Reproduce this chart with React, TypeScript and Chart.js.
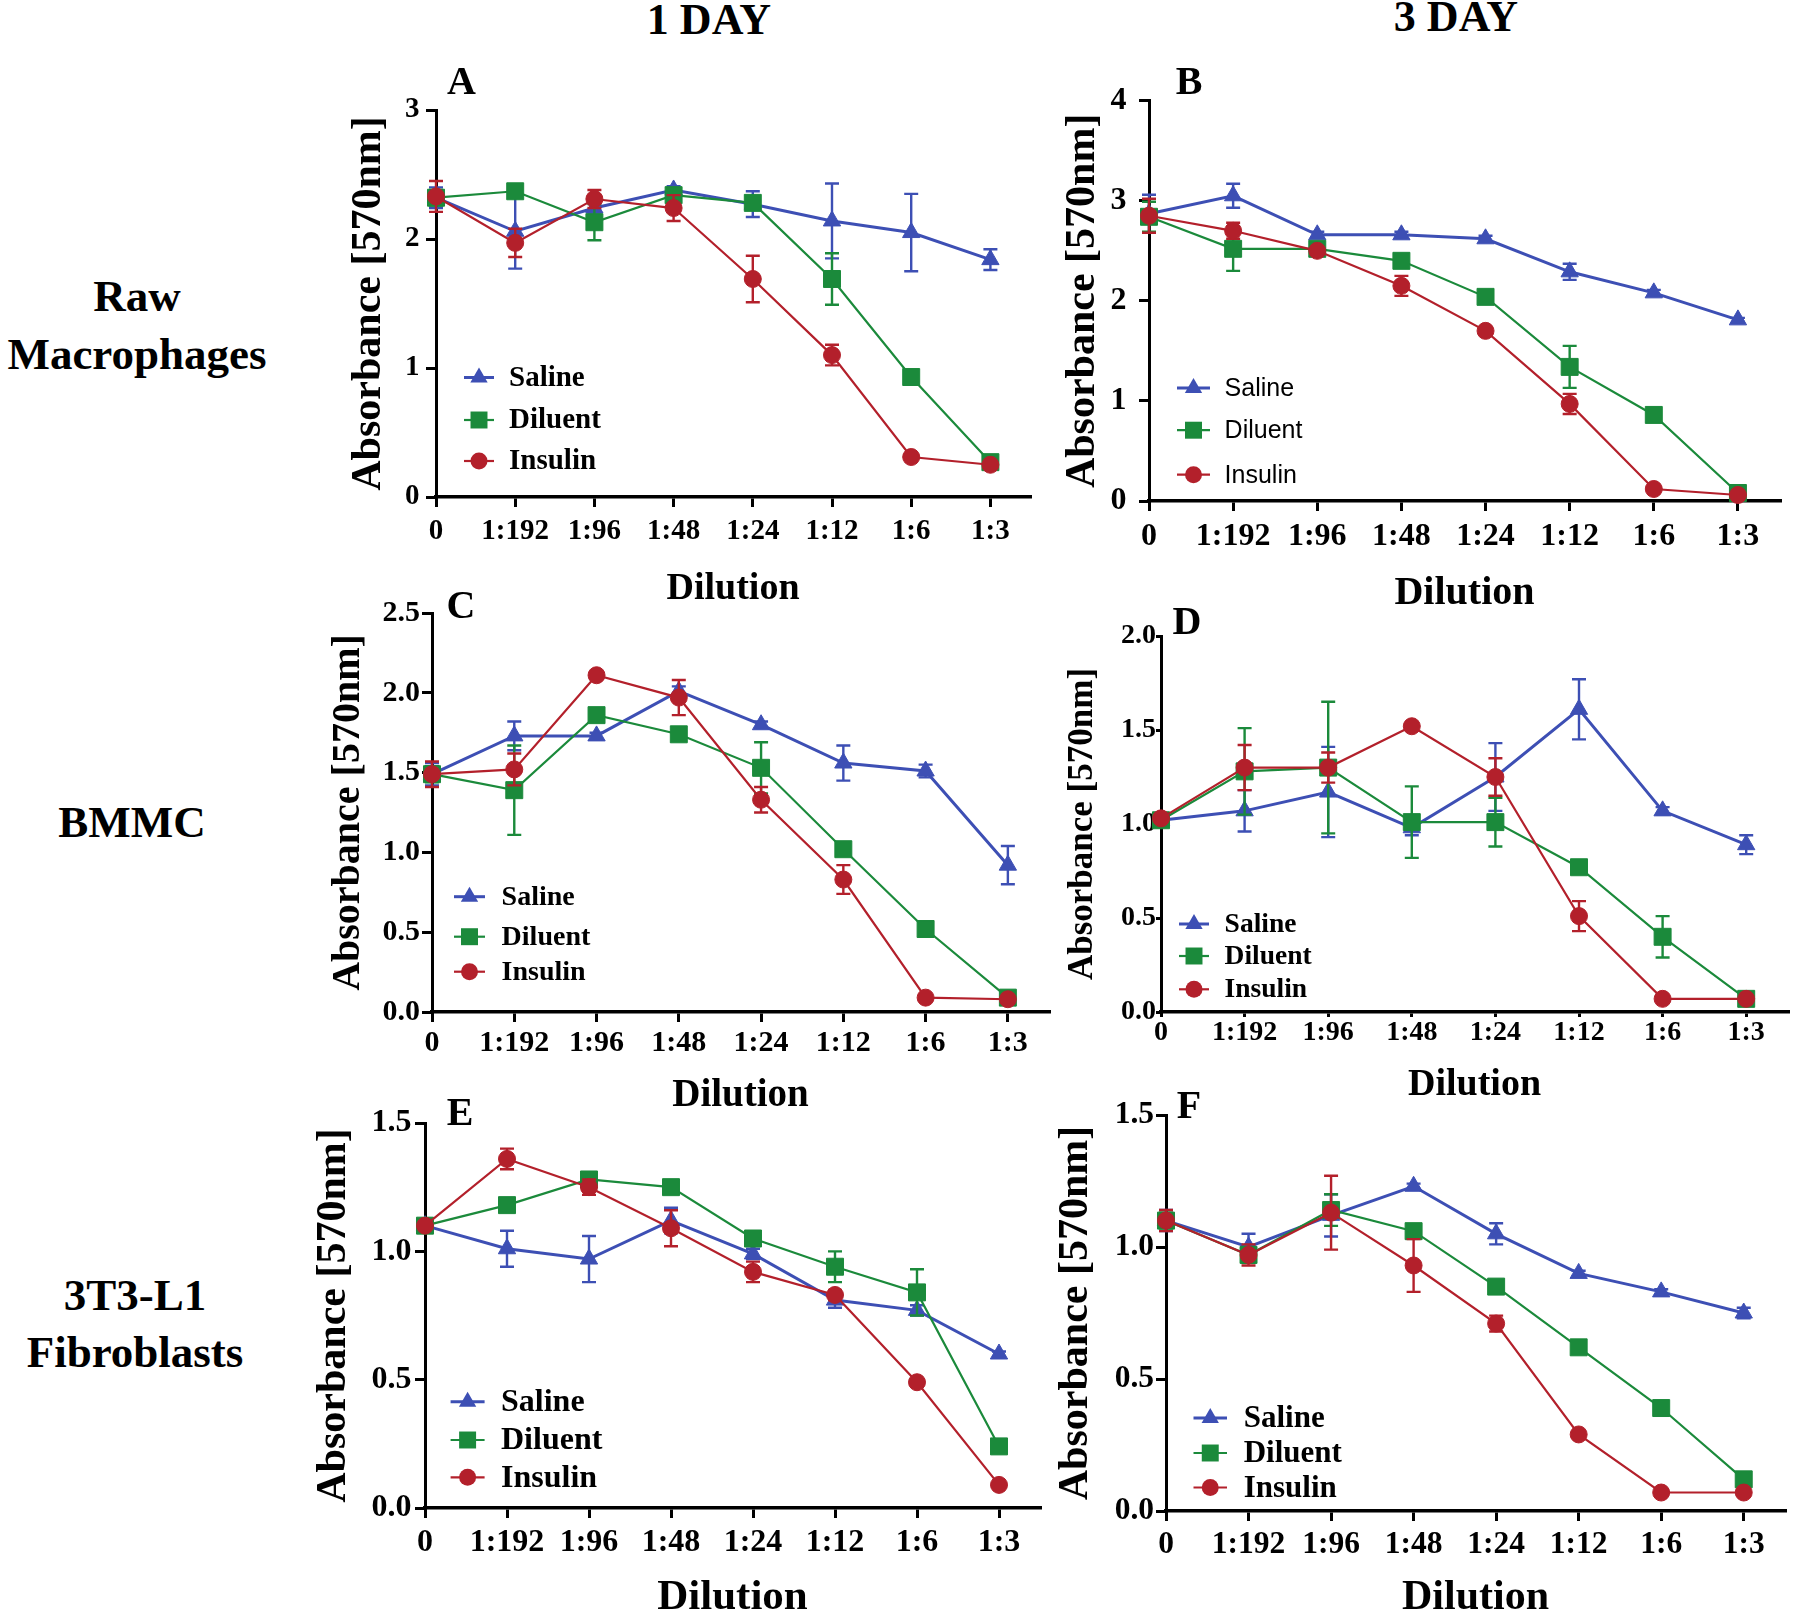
import React, { useEffect, useRef } from 'react';
import { Chart, registerables } from 'chart.js';

Chart.register(...registerables);

// ---------------- DATA ----------------
const DILUTIONS = ['0', '1:192', '1:96', '1:48', '1:24', '1:12', '1:6', '1:3'];
const SERIES_NAMES = ['Saline', 'Diluent', 'Insulin'];

// Panel A: Raw macrophages, 1 day
const A_SALINE = [2.32, 2.06, 2.24, 2.38, 2.27, 2.14, 2.05, 1.84];
const A_SALINE_ERR = [0.08, 0.29, 0.05, 0.03, 0.1, 0.29, 0.3, 0.08];
const A_DILUENT = [2.32, 2.37, 2.13, 2.34, 2.28, 1.69, 0.93, 0.27];
const A_DILUENT_ERR = [0.06, 0.05, 0.14, 0.04, 0.05, 0.2, 0.03, 0.03];
const A_INSULIN = [2.33, 1.97, 2.31, 2.24, 1.69, 1.1, 0.31, 0.25];
const A_INSULIN_ERR = [0.12, 0.11, 0.07, 0.1, 0.18, 0.08, 0.02, 0.02];

// Panel B: Raw macrophages, 3 day
const B_SALINE = [2.87, 3.05, 2.66, 2.66, 2.62, 2.29, 2.08, 1.81];
const B_SALINE_ERR = [0.19, 0.12, 0.03, 0.03, 0.03, 0.08, 0.03, 0.02];
const B_DILUENT = [2.84, 2.52, 2.52, 2.4, 2.04, 1.34, 0.86, 0.08];
const B_DILUENT_ERR = [0.15, 0.22, 0.03, 0.03, 0.03, 0.21, 0.03, 0.02];
const B_INSULIN = [2.85, 2.7, 2.5, 2.15, 1.7, 0.97, 0.12, 0.06];
const B_INSULIN_ERR = [0.17, 0.08, 0.03, 0.1, 0.03, 0.1, 0.03, 0.02];

// Panel C: BMMC, 1 day
const C_SALINE = [1.49, 1.73, 1.73, 2.01, 1.8, 1.56, 1.51, 0.92];
const C_SALINE_ERR = [0.07, 0.09, 0.02, 0.03, 0.02, 0.11, 0.04, 0.12];
const C_DILUENT = [1.49, 1.39, 1.86, 1.74, 1.53, 1.02, 0.52, 0.09];
const C_DILUENT_ERR = [0.05, 0.28, 0.03, 0.02, 0.16, 0.02, 0.02, 0.02];
const C_INSULIN = [1.49, 1.52, 2.11, 1.97, 1.33, 0.83, 0.09, 0.08];
const C_INSULIN_ERR = [0.08, 0.1, 0.02, 0.11, 0.08, 0.09, 0.01, 0.01];

// Panel D: BMMC, 3 day
const D_SALINE = [1.02, 1.07, 1.17, 0.98, 1.25, 1.61, 1.07, 0.89];
const D_SALINE_ERR = [0.02, 0.11, 0.24, 0.04, 0.18, 0.16, 0.02, 0.05];
const D_DILUENT = [1.02, 1.28, 1.3, 1.01, 1.01, 0.77, 0.4, 0.07];
const D_DILUENT_ERR = [0.02, 0.23, 0.35, 0.19, 0.13, 0.02, 0.11, 0.01];
const D_INSULIN = [1.03, 1.3, 1.3, 1.52, 1.25, 0.51, 0.07, 0.07];
const D_INSULIN_ERR = [0.02, 0.12, 0.08, 0.02, 0.1, 0.08, 0.01, 0.01];

// Panel E: 3T3-L1 fibroblasts, 1 day
const E_SALINE = [1.1, 1.01, 0.97, 1.12, 0.99, 0.81, 0.77, 0.6];
const E_SALINE_ERR = [0.01, 0.07, 0.09, 0.05, 0.02, 0.03, 0.02, 0.01];
const E_DILUENT = [1.1, 1.18, 1.28, 1.25, 1.05, 0.94, 0.84, 0.24];
const E_DILUENT_ERR = [0.01, 0.02, 0.02, 0.02, 0.02, 0.06, 0.09, 0.01];
const E_INSULIN = [1.1, 1.36, 1.25, 1.09, 0.92, 0.83, 0.49, 0.09];
const E_INSULIN_ERR = [0.01, 0.04, 0.03, 0.07, 0.04, 0.02, 0.01, 0.01];

// Panel F: 3T3-L1 fibroblasts, 3 day
const F_SALINE = [1.1, 1.0, 1.12, 1.23, 1.05, 0.9, 0.83, 0.75];
const F_SALINE_ERR = [0.04, 0.05, 0.08, 0.01, 0.04, 0.01, 0.01, 0.02];
const F_DILUENT = [1.1, 0.97, 1.14, 1.06, 0.85, 0.62, 0.39, 0.12];
const F_DILUENT_ERR = [0.03, 0.03, 0.06, 0.01, 0.01, 0.01, 0.01, 0.02];
const F_INSULIN = [1.1, 0.97, 1.13, 0.93, 0.71, 0.29, 0.07, 0.07];
const F_INSULIN_ERR = [0.04, 0.04, 0.14, 0.1, 0.03, 0.01, 0.01, 0.01];

const Y_TITLE = 'Absorbance [570nm]';
const X_TITLE = 'Dilution';
const COLUMN_HEADERS = ['1 DAY', '3 DAY'];
const ROW_LABELS = [['Raw', 'Macrophages'], ['BMMC'], ['3T3-L1', 'Fibroblasts']];

// ---------------- STYLE ----------------
const SERIF = '"Liberation Serif", "Times New Roman", Times, serif';
const SANS = '"Liberation Sans Narrow", "Liberation Sans", Arial, sans-serif';
const COLORS = ['#3d4fb4', '#1b8a3b', '#b3202b'];
const STYLES = ['triangle', 'rect', 'circle'];
const RADII = [10, 12, 8.5];
const LINE_W = [3, 2.2, 2.2];

const PAD_L = 130;
const PAD_B = 130;
const PAD_T = 30;
const PAD_R = 6;

type Panel = {
  id: string;
  letter: { x: number; y: number };
  area: { l: number; t: number; r: number; b: number };
  yMax: number;
  yStep: number;
  yDec: number;
  series: number[][];
  errors: number[][];
  tickFont: number;
  yTitleFont: number;
  xTitleFont: number;
  yTitleGap: number;
  xTitleGap: number;
  xTickLen: number;
  xTickPad: number;
  yTickLen: number;
  yTickPad: number;
  legend: { font: number; family: string; weight: string; x0: number; x1: number; tx: number; rows: number[] };
};

const PANELS: Panel[] = [
  {
    id: 'A', letter: { x: 461.5, y: 81 }, area: { l: 436, t: 110, r: 1037, b: 497 },
    yMax: 3, yStep: 1, yDec: 0,
    series: [A_SALINE, A_DILUENT, A_INSULIN], errors: [A_SALINE_ERR, A_DILUENT_ERR, A_INSULIN_ERR],
    tickFont: 29, yTitleFont: 42, xTitleFont: 38, yTitleGap: 67, xTitleGap: 92,
    xTickLen: 10, xTickPad: 7.6, yTickLen: 10, yTickPad: 6.5,
    legend: { font: 29, family: SERIF, weight: 'bold', x0: 28, x1: 58, tx: 73, rows: [267.5, 310, 351] },
  },
  {
    id: 'B', letter: { x: 1189, y: 81 }, area: { l: 1149, t: 99, r: 1787, b: 501 },
    yMax: 4, yStep: 1, yDec: 0,
    series: [B_SALINE, B_DILUENT, B_INSULIN], errors: [B_SALINE_ERR, B_DILUENT_ERR, B_INSULIN_ERR],
    tickFont: 32, yTitleFont: 42, xTitleFont: 40, yTitleGap: 66, xTitleGap: 93,
    xTickLen: 10, xTickPad: 6.8, yTickLen: 10, yTickPad: 12.5,
    legend: { font: 25, family: SANS, weight: 'normal', x0: 28, x1: 61, tx: 75.6, rows: [287.4, 329.5, 374] },
  },
  {
    id: 'C', letter: { x: 461, y: 605 }, area: { l: 432, t: 613, r: 1056, b: 1012 },
    yMax: 2.5, yStep: 0.5, yDec: 1,
    series: [C_SALINE, C_DILUENT, C_INSULIN], errors: [C_SALINE_ERR, C_DILUENT_ERR, C_INSULIN_ERR],
    tickFont: 30, yTitleFont: 40, xTitleFont: 39, yTitleGap: 83, xTitleGap: 84,
    xTickLen: 10, xTickPad: 3, yTickLen: 10, yTickPad: 2,
    legend: { font: 28, family: SERIF, weight: 'bold', x0: 22, x1: 53, tx: 69.6, rows: [283.7, 323.7, 358.7] },
  },
  {
    id: 'D', letter: { x: 1187, y: 621 }, area: { l: 1161, t: 636, r: 1795, b: 1012 },
    yMax: 2, yStep: 0.5, yDec: 1,
    series: [D_SALINE, D_DILUENT, D_INSULIN], errors: [D_SALINE_ERR, D_DILUENT_ERR, D_INSULIN_ERR],
    tickFont: 28, yTitleFont: 35, xTitleFont: 38, yTitleGap: 78, xTitleGap: 73,
    xTickLen: 5, xTickPad: -0.8, yTickLen: 5, yTickPad: 0,
    legend: { font: 27.5, family: SERIF, weight: 'bold', x0: 18, x1: 48, tx: 63.6, rows: [288, 320, 353.3] },
  },
  {
    id: 'E', letter: { x: 460, y: 1112 }, area: { l: 425, t: 1123, r: 1047, b: 1508 },
    yMax: 1.5, yStep: 0.5, yDec: 1,
    series: [E_SALINE, E_DILUENT, E_INSULIN], errors: [E_SALINE_ERR, E_DILUENT_ERR, E_INSULIN_ERR],
    tickFont: 32, yTitleFont: 42, xTitleFont: 43, yTitleGap: 91, xTitleGap: 90,
    xTickLen: 10, xTickPad: 5.8, yTickLen: 10, yTickPad: 3.5,
    legend: { font: 32, family: SERIF, weight: 'bold', x0: 25.6, x1: 59.6, tx: 76, rows: [278.7, 317, 354.3] },
  },
  {
    id: 'F', letter: { x: 1189, y: 1105 }, area: { l: 1166, t: 1115, r: 1792, b: 1511 },
    yMax: 1.5, yStep: 0.5, yDec: 1,
    series: [F_SALINE, F_DILUENT, F_INSULIN], errors: [F_SALINE_ERR, F_DILUENT_ERR, F_INSULIN_ERR],
    tickFont: 31.5, yTitleFont: 42, xTitleFont: 42, yTitleGap: 90, xTitleGap: 87,
    xTickLen: 10, xTickPad: 4.6, yTickLen: 10, yTickPad: 2,
    legend: { font: 31, family: SERIF, weight: 'bold', x0: 27.5, x1: 61, tx: 77.7, rows: [303, 338, 372.5] },
  },
];

function drawMarker(ctx: CanvasRenderingContext2D, style: string, x: number, y: number, r: number) {
  ctx.beginPath();
  if (style === 'circle') {
    ctx.arc(x, y, r, 0, Math.PI * 2);
  } else if (style === 'rect') {
    const s = Math.SQRT1_2 * r;
    ctx.rect(x - s, y - s, 2 * s, 2 * s);
  } else {
    const a = (2 * Math.PI) / 3;
    ctx.moveTo(x, y - r);
    ctx.lineTo(x + Math.sin(a) * r, y - Math.cos(a) * r);
    ctx.lineTo(x + Math.sin(2 * a) * r, y - Math.cos(2 * a) * r);
    ctx.closePath();
  }
  ctx.fill();
}

const errorBarPlugin = {
  id: 'errorBars',
  beforeDatasetDraw(chart: any, args: any) {
    const ds = chart.data.datasets[args.index];
    if (!ds.errors) return;
    const meta = chart.getDatasetMeta(args.index);
    const yScale = chart.scales.y;
    const ctx: CanvasRenderingContext2D = chart.ctx;
    ctx.save();
    ctx.strokeStyle = ds.borderColor;
    ctx.lineWidth = 2.4;
    meta.data.forEach((pt: any, i: number) => {
      const e = ds.errors[i];
      if (!e) return;
      const v = ds.data[i].y;
      const yt = yScale.getPixelForValue(v + e);
      const yb = yScale.getPixelForValue(v - e);
      const x = pt.x;
      ctx.beginPath();
      ctx.moveTo(x, yt);
      ctx.lineTo(x, yb);
      ctx.moveTo(x - 7, yt);
      ctx.lineTo(x + 7, yt);
      ctx.moveTo(x - 7, yb);
      ctx.lineTo(x + 7, yb);
      ctx.stroke();
    });
    ctx.restore();
  },
};

const legendPlugin = {
  id: 'panelLegend',
  afterDraw(chart: any, _args: any, opts: any) {
    if (!opts || !opts.rows) return;
    const ctx: CanvasRenderingContext2D = chart.ctx;
    const { left, top } = chart.chartArea;
    ctx.save();
    opts.rows.forEach((dy: number, i: number) => {
      const y = top + dy;
      const x0 = left + opts.x0;
      const x1 = left + opts.x1;
      ctx.strokeStyle = COLORS[i];
      ctx.fillStyle = COLORS[i];
      ctx.lineWidth = LINE_W[i];
      ctx.beginPath();
      ctx.moveTo(x0, y);
      ctx.lineTo(x1, y);
      ctx.stroke();
      drawMarker(ctx, STYLES[i], (x0 + x1) / 2, y, RADII[i]);
      ctx.fillStyle = '#000';
      ctx.font = `${opts.weight} ${opts.font}px ${opts.family}`;
      ctx.textAlign = 'left';
      ctx.textBaseline = 'middle';
      ctx.fillText(SERIES_NAMES[i], left + opts.tx, y + 1);
    });
    ctx.restore();
  },
};

function PanelChart({ p }: { p: Panel }) {
  const ref = useRef<HTMLCanvasElement | null>(null);
  const w = p.area.r - p.area.l + PAD_L + PAD_R;
  const h = p.area.b - p.area.t + PAD_T + PAD_B;

  useEffect(() => {
    if (!ref.current) return;
    const datasets = p.series.map((vals, i) => ({
      label: SERIES_NAMES[i],
      data: vals.map((v, k) => ({ x: k, y: v })),
      errors: p.errors[i],
      borderColor: COLORS[i],
      backgroundColor: COLORS[i],
      pointBackgroundColor: COLORS[i],
      pointBorderColor: COLORS[i],
      pointBorderWidth: 1,
      pointStyle: STYLES[i],
      pointRadius: RADII[i],
      borderWidth: LINE_W[i],
      tension: 0,
      clip: false,
      order: 2 - i,
    }));
    const ytf = p.yTitleFont * 1.2;
    const xtf = p.xTitleFont * 1.2;
    const chart = new Chart(ref.current, {
      type: 'line',
      data: { datasets: datasets as any },
      plugins: [errorBarPlugin as any, legendPlugin as any],
      options: {
        animation: false,
        responsive: false,
        maintainAspectRatio: false,
        devicePixelRatio: 1,
        layout: { padding: { left: 0, top: PAD_T, right: PAD_R, bottom: 0 } },
        plugins: {
          legend: { display: false },
          tooltip: { enabled: false },
          panelLegend: p.legend,
        } as any,
        scales: {
          x: {
            type: 'linear',
            min: 0,
            max: 7.5,
            afterBuildTicks: (s: any) => {
              s.ticks = DILUTIONS.map((_, i) => ({ value: i }));
            },
            afterFit: (s: any) => {
              s.height = PAD_B;
            },
            ticks: {
              autoSkip: false,
              maxRotation: 0,
              minRotation: 0,
              color: '#000',
              padding: p.xTickPad,
              font: { family: SERIF, size: p.tickFont, weight: 'bold' },
              callback: (v: any) => DILUTIONS[Math.round(Number(v))],
            },
            grid: {
              display: true,
              drawOnChartArea: false,
              drawTicks: true,
              tickLength: p.xTickLen,
              color: '#000',
              lineWidth: 3,
            },
            border: { display: true, color: '#000', width: 3.5 },
            title: {
              display: true,
              text: X_TITLE,
              color: '#000',
              font: { family: SERIF, size: p.xTitleFont, weight: 'bold', lineHeight: 1.2 },
              padding: { top: 0, bottom: PAD_B - p.xTitleGap - xtf / 2 },
            },
          },
          y: {
            type: 'linear',
            min: 0,
            max: p.yMax,
            afterFit: (s: any) => {
              s.width = PAD_L;
            },
            ticks: {
              stepSize: p.yStep,
              color: '#000',
              padding: p.yTickPad,
              font: { family: SERIF, size: p.tickFont, weight: 'bold' },
              callback: (v: any) => Number(v).toFixed(p.yDec),
            },
            grid: {
              display: true,
              drawOnChartArea: false,
              drawTicks: true,
              tickLength: p.yTickLen,
              color: '#000',
              lineWidth: 3,
            },
            border: { display: true, color: '#000', width: 3 },
            title: {
              display: true,
              text: Y_TITLE,
              color: '#000',
              font: { family: SERIF, size: p.yTitleFont, weight: 'bold', lineHeight: 1.2 },
              padding: { top: PAD_L - p.yTitleGap - ytf / 2, bottom: 0 },
            },
          },
        },
      } as any,
    });
    return () => chart.destroy();
  }, [p]);

  return (
    <canvas
      ref={ref}
      width={w}
      height={h}
      style={{
        position: 'absolute',
        left: p.area.l - PAD_L,
        top: p.area.t - PAD_T,
        width: w,
        height: h,
      }}
    />
  );
}

function Label({ text, x, y, size }: { text: string; x: number; y: number; size: number }) {
  return (
    <div
      style={{
        position: 'absolute',
        left: x,
        top: y,
        transform: 'translate(-50%, -50%)',
        fontFamily: SERIF,
        fontWeight: 'bold',
        fontSize: size,
        lineHeight: 1,
        whiteSpace: 'nowrap',
        color: '#000',
      }}
    >
      {text}
    </div>
  );
}

const HEADER_POS = [
  { x: 709, y: 20 },
  { x: 1456, y: 17 },
];
const ROW_POS = [
  [{ x: 137, y: 296 }, { x: 137, y: 354 }],
  [{ x: 132, y: 822 }],
  [{ x: 135, y: 1295 }, { x: 135, y: 1352 }],
];

export default function App() {
  return (
    <div
      style={{
        position: 'absolute',
        left: 0,
        top: 0,
        width: 1800,
        height: 1616,
        overflow: 'hidden',
        background: '#fff',
      }}
    >
      {COLUMN_HEADERS.map((t, i) => (
        <Label key={t} text={t} x={HEADER_POS[i].x} y={HEADER_POS[i].y} size={44} />
      ))}
      {ROW_LABELS.map((lines, r) =>
        lines.map((t, k) => <Label key={t} text={t} x={ROW_POS[r][k].x} y={ROW_POS[r][k].y} size={45} />)
      )}
      {PANELS.map((p) => (
        <PanelChart key={p.id} p={p} />
      ))}
      {PANELS.map((p) => (
        <Label key={'L' + p.id} text={p.id} x={p.letter.x} y={p.letter.y} size={40} />
      ))}
    </div>
  );
}
